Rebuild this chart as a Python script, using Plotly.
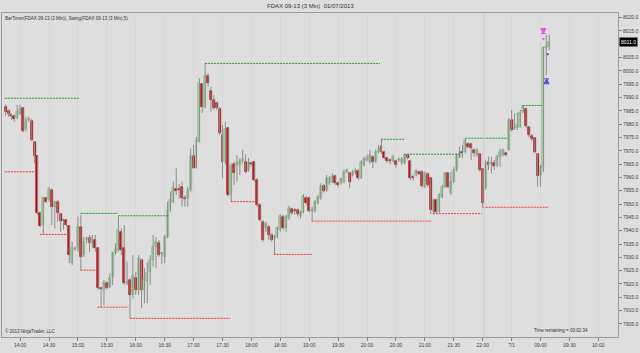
import plotly.graph_objects as go

# ---------------- data (FDAX 09-13, 3 min bars) ----------------
opens = [7986.5,7985.0,7983.5,7983.2,7982.2,7983.8,7985.9,7978.2,7981.4,7981.2,
 7973.2,7968.0,7946.5,7942.1,7952.2,7951.9,7955.3,7948.8,7950.9,7946.2,
 7944.2,7944.0,7941.9,7927.8,7933.0,7933.4,7941.5,7930.9,7936.4,7937.1,
 7935.3,7936.5,7933.6,7918.4,7917.7,7920.5,7918.9,7922.7,7931.5,7932.8,
 7939.6,7933.6,7920.5,7921.5,7915.9,7922.4,7917.7,7929.0,7917.7,7921.1,
 7924.6,7929.0,7934.0,7935.3,7931.2,7930.2,7937.7,7947.8,7950.9,7955.6,
 7955.5,7956.5,7952.2,7952.4,7955.3,7968.2,7963.6,7973.4,7995.0,7986.5,
 7998.2,7992.4,7989.1,7987.8,7985.7,7975.9,7965.7,7978.7,7953.4,7964.9,
 7964.4,7964.7,7966.2,7965.9,7962.8,7965.2,7965.7,7959.0,7949.6,7943.4,
 7940.9,7941.5,7938.4,7937.3,7937.7,7940.3,7945.3,7940.9,7944.9,7948.1,
 7947.8,7947.8,7945.6,7947.1,7952.2,7952.2,7947.4,7947.4,7950.3,7952.2,
 7956.8,7955.3,7957.8,7958.4,7960.6,7957.9,7957.8,7958.4,7962.2,7961.5,
 7960.9,7961.5,7962.4,7959.9,7964.7,7966.7,7965.7,7967.8,7966.2,7969.4,
 7971.9,7969.6,7967.4,7966.5,7966.0,7966.2,7966.4,7965.3,7965.3,7968.4,
 7966.2,7960.3,7960.9,7962.1,7962.1,7956.5,7961.2,7959.9,7947.1,7951.5,
 7947.1,7952.8,7956.5,7961.5,7954.0,7958.4,7962.8,7967.8,7969.6,7969.6,
 7972.5,7972.5,7970.3,7968.4,7968.7,7963.0,7955.9,7965.9,7965.0,7965.3,
 7964.7,7967.8,7968.4,7969.0,7970.3,7981.6,7978.2,7978.4,7979.0,7984.7,
 7985.6,7979.0,7975.5,7974.7,7968.8,7960.9,7964.0,8008.5,8009.1]
highs = [7987.5,7985.5,7984.0,7983.5,7987.2,7987.2,7986.5,7982.8,7982.8,7982.0,
 7973.7,7968.2,7946.8,7952.8,7952.5,7956.5,7955.8,7951.2,7951.5,7946.5,
 7944.6,7944.4,7942.2,7935.9,7934.0,7945.3,7945.9,7937.7,7937.7,7938.4,
 7938.4,7938.4,7934.0,7918.8,7921.5,7921.0,7924.0,7932.1,7935.3,7945.3,
 7940.9,7942.1,7928.4,7922.2,7930.9,7924.6,7930.9,7929.6,7925.9,7928.2,
 7930.9,7938.4,7937.7,7936.5,7932.0,7938.4,7950.9,7954.6,7958.4,7963.4,
 7957.5,7958.4,7953.4,7956.5,7970.9,7972.2,7975.3,7997.2,7995.3,8002.8,
 7999.1,7994.1,7990.9,7988.4,7986.5,7979.7,7980.9,7979.0,7965.3,7965.9,
 7968.4,7967.2,7970.3,7968.7,7967.2,7965.8,7966.2,7959.7,7950.3,7944.0,
 7943.4,7942.1,7939.0,7938.4,7941.5,7946.2,7945.9,7945.9,7949.4,7948.6,
 7948.5,7948.4,7947.5,7953.7,7953.1,7952.8,7948.8,7951.5,7953.4,7957.8,
 7957.5,7960.9,7960.6,7961.5,7961.0,7958.4,7960.0,7963.0,7963.4,7962.0,
 7962.8,7963.4,7963.0,7966.5,7967.8,7968.5,7970.3,7968.4,7970.5,7972.2,
 7974.3,7970.0,7967.8,7967.0,7968.5,7966.6,7967.4,7967.6,7968.7,7968.7,
 7966.6,7961.0,7963.0,7962.8,7962.8,7962.2,7961.8,7960.3,7952.0,7951.8,
 7954.0,7957.2,7962.0,7962.0,7962.1,7964.0,7969.0,7971.5,7972.2,7974.7,
 7973.2,7973.0,7970.9,7970.9,7969.0,7963.4,7966.5,7967.8,7967.8,7966.5,
 7968.5,7970.9,7970.9,7969.6,7982.2,7985.3,7984.1,7984.4,7985.3,7987.0,
 7986.2,7979.3,7976.2,7975.1,7969.0,7964.7,8009.1,8013.5,8013.5]
lows = [7983.0,7982.8,7981.6,7981.0,7981.8,7983.5,7976.9,7977.2,7980.9,7973.5,
 7965.3,7945.9,7941.5,7938.6,7950.5,7950.9,7942.1,7940.9,7943.4,7939.6,
 7940.3,7941.5,7927.8,7927.1,7932.5,7932.1,7925.2,7930.2,7935.3,7932.1,
 7933.4,7932.1,7917.7,7911.3,7912.1,7918.0,7918.4,7919.6,7930.9,7932.1,
 7930.9,7919.6,7919.6,7907.1,7914.6,7915.9,7915.9,7910.9,7912.7,7912.8,
 7919.6,7926.5,7925.9,7930.2,7927.5,7927.8,7937.1,7947.1,7950.3,7953.4,
 7952.0,7949.0,7949.0,7949.0,7954.6,7963.2,7963.4,7973.2,7984.1,7985.9,
 7994.1,7984.7,7985.3,7985.3,7975.9,7959.7,7964.7,7952.8,7950.9,7957.2,
 7958.4,7960.9,7965.3,7961.5,7962.1,7964.3,7958.4,7949.0,7943.4,7935.9,
 7939.6,7936.5,7935.9,7931.1,7937.1,7939.6,7940.3,7939.6,7944.0,7946.0,
 7946.0,7945.3,7944.6,7946.5,7949.6,7946.8,7943.6,7946.8,7949.8,7951.5,
 7954.3,7954.6,7957.2,7957.8,7957.2,7956.2,7957.2,7957.8,7961.5,7955.9,
 7960.3,7961.0,7959.0,7959.4,7964.0,7966.0,7965.0,7963.4,7965.5,7969.0,
 7968.8,7966.8,7965.5,7964.9,7965.5,7963.5,7965.8,7964.7,7964.9,7966.8,
 7959.0,7958.8,7960.3,7960.9,7956.2,7956.0,7956.5,7946.3,7946.4,7946.7,
 7946.5,7952.2,7956.0,7956.0,7953.4,7957.8,7962.2,7967.2,7967.2,7969.0,
 7970.9,7966.5,7967.8,7967.8,7962.1,7948.8,7955.3,7962.8,7961.5,7962.8,
 7963.8,7964.0,7967.8,7967.8,7970.0,7977.2,7977.8,7977.8,7978.6,7984.1,
 7978.6,7975.1,7973.6,7969.0,7956.5,7956.5,7962.1,7998.4,8007.8]
closes = [7984.7,7983.7,7983.0,7981.8,7984.4,7985.7,7977.4,7981.6,7981.6,7974.0,
 7968.2,7946.5,7941.9,7952.4,7950.9,7955.5,7949.0,7950.9,7946.5,7943.6,
 7943.6,7942.1,7930.9,7933.4,7933.6,7941.5,7930.2,7935.9,7937.1,7935.3,
 7937.1,7933.4,7918.4,7918.0,7920.2,7918.6,7922.4,7931.5,7933.1,7940.3,
 7932.8,7920.2,7920.8,7915.9,7923.1,7917.7,7929.6,7917.7,7921.5,7924.0,
 7929.0,7934.0,7935.6,7930.9,7931.5,7937.7,7947.8,7951.5,7955.9,7954.9,
 7955.2,7952.2,7952.0,7955.3,7968.2,7963.6,7974.0,7995.3,7986.5,7998.2,
 7995.3,7989.1,7985.9,7985.9,7976.6,7965.9,7978.2,7953.4,7964.4,7961.5,
 7965.3,7966.2,7966.9,7962.1,7965.3,7965.0,7959.0,7949.6,7944.0,7936.5,
 7942.4,7938.4,7936.5,7937.7,7940.9,7945.6,7940.9,7945.3,7948.4,7946.5,
 7947.3,7946.2,7947.0,7953.1,7950.3,7947.4,7947.8,7950.9,7952.8,7956.9,
 7954.9,7959.7,7959.4,7960.3,7957.8,7957.2,7959.4,7962.1,7962.6,7958.4,
 7962.1,7962.8,7959.7,7965.7,7966.9,7967.2,7968.4,7965.7,7969.6,7970.9,
 7969.4,7967.4,7966.2,7966.0,7967.8,7964.7,7966.9,7966.9,7968.4,7967.2,
 7959.7,7959.6,7962.4,7961.4,7956.9,7961.5,7957.2,7947.8,7951.5,7947.1,
 7953.4,7956.5,7961.5,7956.5,7958.4,7962.8,7968.0,7969.6,7969.0,7974.0,
 7971.3,7970.9,7969.2,7970.3,7962.8,7950.3,7965.5,7964.7,7965.4,7964.3,
 7967.5,7969.6,7970.3,7968.4,7981.6,7977.8,7978.9,7979.7,7984.3,7986.8,
 7979.3,7975.9,7974.3,7969.6,7960.5,7964.0,8008.5,8009.0,8011.0]

# Swing indicator (strength 5): swing highs / lows as [start bar, end bar, price]
swing_high_start = [-0.3, 25.9, 39.0, 69.0, 129.9, 137.8, 159.0, 178.8]
swing_high_end   = [25.6, 38.7, 56.2, 129.5, 137.8, 157.4, 173.6, 185.5]
swing_high_price = [7989.7, 7946.5, 7945.6, 8002.8, 7974.3, 7968.7, 7974.7, 7987.0]
swing_low_start  = [-0.3, 11.8, 25.9, 31.8, 43.1, 77.9, 92.7, 105.8, 147.8, 165.0]
swing_low_end    = [10.4, 21.8, 31.4, 42.4, 77.6, 86.9, 105.8, 147.4, 164.7, 187.7]
swing_low_price  = [7962.1, 7938.6, 7925.2, 7911.3, 7907.1, 7950.9, 7931.1, 7943.6, 7946.4, 7948.8]

# execution / signal marks near the last bars: (bar, price)
magenta_arrow = (186, 8014.0)
magenta_dot = (186, 8012.0)
blue_dot = (187.5, 8006.2)
blue_arrow = (187.1, 7997.0)

# session time labels
friday_start_min = 13 * 60 + 45
monday_start_min = 8 * 60 + 3
n_friday = 166
tick_labels = ["14:00","14:30","15:00","15:30","16:00","16:30","17:00","17:30",
               "18:00","18:30","19:00","19:30","20:00","20:30","21:00","21:30",
               "22:00","7/1","09:00","09:30","10:00"]
tick_times = ["14:00","14:30","15:00","15:30","16:00","16:30","17:00","17:30",
              "18:00","18:30","19:00","19:30","20:00","20:30","21:00","21:30",
              "22:00","M08:30","M09:00","M09:30","M10:00"]
price_ticks = [7905 + 5 * k for k in range(24)]

last_price = 8011.0

# ---------------- build ----------------
def hhmm(m):
    return f"{m // 60:02d}:{m % 60:02d}"

bar_times = [hhmm(friday_start_min + 3 * k) for k in range(n_friday)]
bar_times += ["M" + hhmm(monday_start_min + 3 * k) for k in range(60)]
tick_vals = [bar_times.index(t) for t in tick_times]

n = len(closes)
x = list(range(n))

BG = "#dedede"
FONT = "Liberation Sans, Arial, sans-serif"
UP_FILL, UP_LINE = "#a8dca8", "#7aae7a"
DN_FILL, DN_LINE = "#cc0000", "#a00000"
WICK = "#8c8c8c"
SH_COLOR = "#22922a"
SL_COLOR = "#e8383a"

fig = go.Figure()

# wicks
wx, wy = [], []
for i in range(n):
    wx += [x[i], x[i], None]
    wy += [lows[i], highs[i], None]
fig.add_trace(go.Scatter(x=wx, y=wy, mode="lines", line=dict(color=WICK, width=1),
                         showlegend=False, hoverinfo="skip", connectgaps=False))

# bodies
base = [min(o, c) for o, c in zip(opens, closes)]
height = [max(abs(c - o), 0.35) for o, c in zip(opens, closes)]
up = [c >= o for o, c in zip(opens, closes)]
fig.add_trace(go.Bar(x=x, y=height, base=base, width=0.68,
                     marker=dict(color=[UP_FILL if u else DN_FILL for u in up],
                                 line=dict(color=[UP_LINE if u else DN_LINE for u in up], width=0.6)),
                     showlegend=False, hoverinfo="skip"))

# swing lines
for s, e, p in zip(swing_high_start, swing_high_end, swing_high_price):
    fig.add_trace(go.Scatter(x=[s, e], y=[p, p], mode="lines",
                             line=dict(color=SH_COLOR, width=1, dash="2px,1px"),
                             showlegend=False, hoverinfo="skip"))
for s, e, p in zip(swing_low_start, swing_low_end, swing_low_price):
    fig.add_trace(go.Scatter(x=[s, e], y=[p, p], mode="lines",
                             line=dict(color=SL_COLOR, width=1, dash="2px,1px"),
                             showlegend=False, hoverinfo="skip"))

# signal marks
fig.add_trace(go.Scatter(x=[magenta_arrow[0], magenta_dot[0]], y=[magenta_arrow[1], magenta_dot[1]],
                         mode="markers", marker=dict(symbol=["arrow-bar-down", "square"], size=[5, 2],
                                                     color="#e020e0",
                                                     line=dict(width=[1, 0], color="#e020e0")),
                         showlegend=False, hoverinfo="skip"))
fig.add_trace(go.Scatter(x=[blue_dot[0], blue_arrow[0]], y=[blue_dot[1], blue_arrow[1]],
                         mode="markers", marker=dict(symbol=["square", "arrow-bar-up"], size=[2, 5],
                                                     color="#1818e0",
                                                     line=dict(width=[0, 1], color="#1818e0")),
                         showlegend=False, hoverinfo="skip"))

x_lo, x_hi = -1.27, 211.8
fig.update_layout(
    width=640, height=353,
    margin=dict(l=1, r=20, t=13, b=16),
    paper_bgcolor=BG, plot_bgcolor=BG,
    font=dict(family=FONT, size=5, color="#404040"),
    bargap=0, barmode="overlay",
    xaxis=dict(range=[x_lo, x_hi],
               tickmode="array", tickvals=tick_vals, ticktext=tick_labels,
               ticks="outside", ticklen=3, tickcolor="#808080",
               tickfont=dict(size=5, color="#404040"),
               showgrid=True, gridcolor="#d8d8d8", gridwidth=1,
               showline=True, linecolor="#9a9a9a", mirror=True, zeroline=False),
    yaxis=dict(range=[7900.1, 8021.7], side="right",
               tickmode="array", tickvals=price_ticks,
               ticktext=["" if v == round(last_price / 5) * 5 else f"{v:.1f}" for v in price_ticks],
               ticks="outside", ticklen=3, tickcolor="#808080",
               tickfont=dict(size=5, color="#404040"),
               showgrid=False, showline=True, linecolor="#9a9a9a", mirror=True, zeroline=False),
)

# session break line
fig.add_vline(x=165.5, line=dict(color="#cacaca", width=1))

# current price marker on axis
fig.add_annotation(xref="paper", yref="y", x=1, y=last_price, xanchor="left",
                   text=f"{last_price:.1f}", showarrow=False, xshift=1,
                   font=dict(size=5, color="white", family=FONT),
                   bgcolor="black", borderpad=1)

# texts
fig.add_annotation(xref="paper", yref="paper", x=0.5, y=1, yanchor="bottom", yshift=2,
                   text="FDAX 09-13 (3 Min)  01/07/2013", showarrow=False,
                   font=dict(size=6, color="#303030", family=FONT))
fig.add_annotation(xref="paper", yref="paper", x=0, y=1, xanchor="left", yanchor="top",
                   xshift=1, yshift=-1,
                   text="BarTimer(FDAX 09-13 (3 Min)), Swing(FDAX 09-13 (3 Min),5)",
                   showarrow=False, font=dict(size=4.5, color="#303030", family=FONT))
fig.add_annotation(xref="paper", yref="paper", x=0, y=0, xanchor="left", yanchor="bottom",
                   xshift=1, yshift=1, text="© 2013 NinjaTrader, LLC", showarrow=False,
                   font=dict(size=4.5, color="#303030", family=FONT))
fig.add_annotation(xref="paper", yref="paper", x=0.955, y=0, xanchor="right", yanchor="bottom",
                   yshift=2, text="Time remaining = 00:02:34", showarrow=False,
                   font=dict(size=4.5, color="#303030", family=FONT))

fig.write_html("out.html")
